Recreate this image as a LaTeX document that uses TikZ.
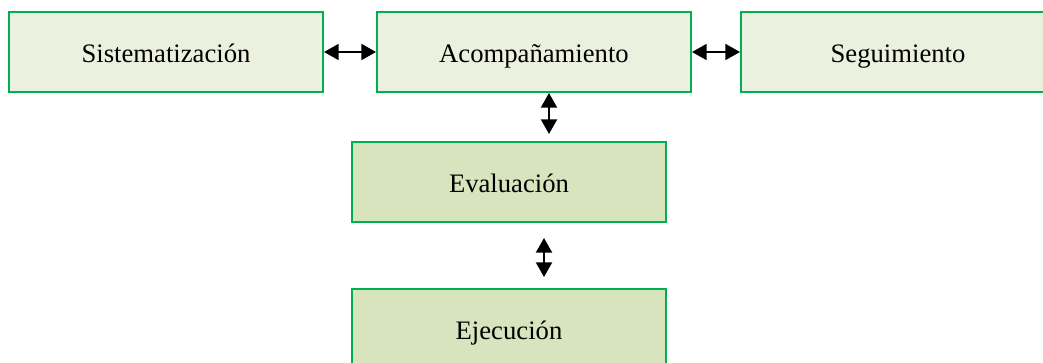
\documentclass[tikz,border=0pt]{standalone}
\usepackage{fontspec}
\setmainfont{Liberation Serif}
\usepackage{tikz}
\usetikzlibrary{arrows.meta,positioning}
\definecolor{boxline}{HTML}{00B050}
\definecolor{lightfill}{HTML}{EBF1DE}
\definecolor{darkfill}{HTML}{D7E4BD}
\tikzset{
    %Define standard arrow tip
    >={Triangle[length=11pt,width=12pt]},
    %Define style for boxes
    upperbox/.style={
           rectangle,
           draw=boxline, line width=1.5pt,
           minimum width=235.5pt,
           minimum height=60pt,
           text height=18pt, text depth=2.5pt,
           font=\fontsize{20}{24}\selectfont,
           text centered,
           fill=lightfill
           },
    lowerbox/.style={
           upperbox,
           fill=darkfill
           },
    % Define arrow style
    pil/.style={
           <->,
           line width=1.5pt}
}
\begin{document}
\begin{tikzpicture}[node distance=36pt]
\useasboundingbox (0,0) rectangle (782.25pt,-272.25pt);
\node[upperbox, anchor=north west] (sist) at (6pt,-8.25pt) {Sistematización};
\node[upperbox, right=39pt of sist] (acomp) {Acompañamiento};
\node[upperbox, right=36pt of acomp] (seg) {Seguimiento};
\node[lowerbox, below=36pt of acomp, xshift=-18.75pt] (eval) {Evaluación};
\node[lowerbox, below=48.75pt of eval] (ejec) {Ejecución};
% connectors
\draw[pil] (sist) -- (acomp);
\draw[pil] (acomp) -- (seg);
\draw[pil, shorten >=5.25pt] ([xshift=11.25pt]acomp.south) -- ([xshift=30pt]eval.north);
\draw[pil, shorten <=11.25pt, shorten >=8.25pt] ([xshift=26.25pt]eval.south) -- ([xshift=26.25pt]ejec.north);
\end{tikzpicture}
\end{document}
